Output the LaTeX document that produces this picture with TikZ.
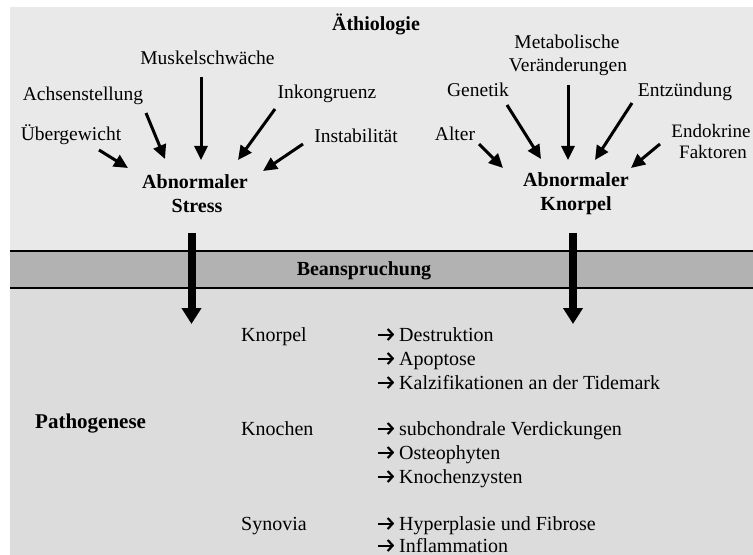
\documentclass[tikz,border=0pt]{standalone}
\usepackage{fontspec}
\setmainfont{Liberation Serif}
\usetikzlibrary{arrows.meta}
\definecolor{topgray}{HTML}{E9E9E9}
\definecolor{botgray}{HTML}{DCDCDC}
\definecolor{bandgray}{HTML}{B2B2B2}
\newcommand{\ra}{\makebox[22bp][l]{\tikz[baseline=0pt,x=1bp,y=1bp]\draw[black,line width=2bp,-{Straight Barb[length=5bp,width=11bp,line width=2.2bp]}] (0,6.5) -- (16,6.5);}}
\tikzset{
  lbl/.style={inner sep=0pt, anchor=base, font=\fontsize{19.5bp}{23bp}\selectfont},
  bold/.style={inner sep=0pt, anchor=base, font=\fontsize{20bp}{24bp}\selectfont\bfseries},
  item/.style={inner sep=0pt, anchor=base west, font=\fontsize{20bp}{24bp}\selectfont},
  smallarr/.style={line width=3bp, -{Triangle[length=14bp,width=13bp]}},
  bigarr/.style={line width=8bp, -{Triangle[length=16bp,width=19bp]}},
  bandline/.style={line width=1.2bp, black}
}
\begin{document}
\begin{tikzpicture}[x=1bp,y=-1bp]
\useasboundingbox (0,0) rectangle (753,555);
\fill[white] (0,0) rectangle (753,555);
% panels
\fill[topgray] (10,7) rectangle (753,251);
\fill[botgray] (10,288) rectangle (753,555);
\fill[bandgray] (10,251) rectangle (753,288);
\draw[bandline] (10,251) -- (753,251);
\draw[bandline] (10,288) -- (753,288);

% headings
\node[bold] (aeth) at (376,31) {Äthiologie};
\node[bold] (beans) at (364,276) {Beanspruchung};
\node[bold, anchor=base west, font=\fontsize{21bp}{24bp}\selectfont\bfseries] (patho) at (35,428) {Pathogenese};

% left cluster
\node[lbl] (musk) at (207.5,65) {Muskelschwäche};
\node[lbl] (achs) at (83,101) {Achsenstellung};
\node[lbl] (inko) at (327,99) {Inkongruenz};
\node[lbl] (ueber) at (71,141) {Übergewicht};
\node[lbl] (inst) at (356,143) {Instabilität};
\node[bold] (abnA) at (195,189) {Abnormaler};
\node[bold] (stress) at (197,213) {Stress};

% right cluster
\node[lbl] (meta) at (567,49) {Metabolische};
\node[lbl] (veraend) at (568,72) {Veränderungen};
\node[lbl] (gene) at (478,97) {Genetik};
\node[lbl] (entz) at (685,97) {Entzündung};
\node[lbl] (alter) at (455,141) {Alter};
\node[lbl, font=\fontsize{19bp}{23bp}\selectfont] (endo) at (711,138) {Endokrine};
\node[lbl, font=\fontsize{19bp}{23bp}\selectfont] (fakt) at (713,159) {Faktoren};
\node[bold] (abnB) at (576,187) {Abnormaler};
\node[bold] (knorpelB) at (576,211) {Knorpel};

% arrow end points
\coordinate (l1s) at (99,150);  \coordinate (l1e) at (128,168);
\coordinate (l2s) at (146,113); \coordinate (l2e) at (165,159);
\coordinate (l3s) at (201,77);  \coordinate (l3e) at (201,160);
\coordinate (l4s) at (275,109); \coordinate (l4e) at (238,160);
\coordinate (l5s) at (303,144); \coordinate (l5e) at (263,171);
\coordinate (r1s) at (479,144); \coordinate (r1e) at (503,168);
\coordinate (r2s) at (507,105); \coordinate (r2e) at (541,159);
\coordinate (r3s) at (568,85);  \coordinate (r3e) at (568,160);
\coordinate (r4s) at (632,103); \coordinate (r4e) at (595,160);
\coordinate (r5s) at (660,144); \coordinate (r5e) at (631,168);
\coordinate (bls) at (191.5,233); \coordinate (ble) at (191.5,324);
\coordinate (brs) at (573,233);   \coordinate (bre) at (573,324);

\foreach \a in {l1,l2,l3,l4,l5,r1,r2,r3,r4,r5}
  \draw[smallarr] (\a s) -- (\a e);
\draw[bigarr] (bls) -- (ble);
\draw[bigarr] (brs) -- (bre);

% pathogenese table
\node[item] (knorpel) at (241,341) {Knorpel};
\node[item] (knochen) at (241,435) {Knochen};
\node[item] (synovia) at (241,530) {Synovia};
\node[item] (k1) at (377,341) {\ra Destruktion};
\node[item] (k2) at (377,365) {\ra Apoptose};
\node[item] (k3) at (377,389) {\ra Kalzifikationen an der Tidemark};
\node[item] (n1) at (377,435) {\ra subchondrale Verdickungen};
\node[item] (n2) at (377,459) {\ra Osteophyten};
\node[item] (n3) at (377,483) {\ra Knochenzysten};
\node[item] (s1) at (377,530) {\ra Hyperplasie und Fibrose};
\node[item] (s2) at (377,552) {\ra Inflammation};
\end{tikzpicture}
\end{document}
